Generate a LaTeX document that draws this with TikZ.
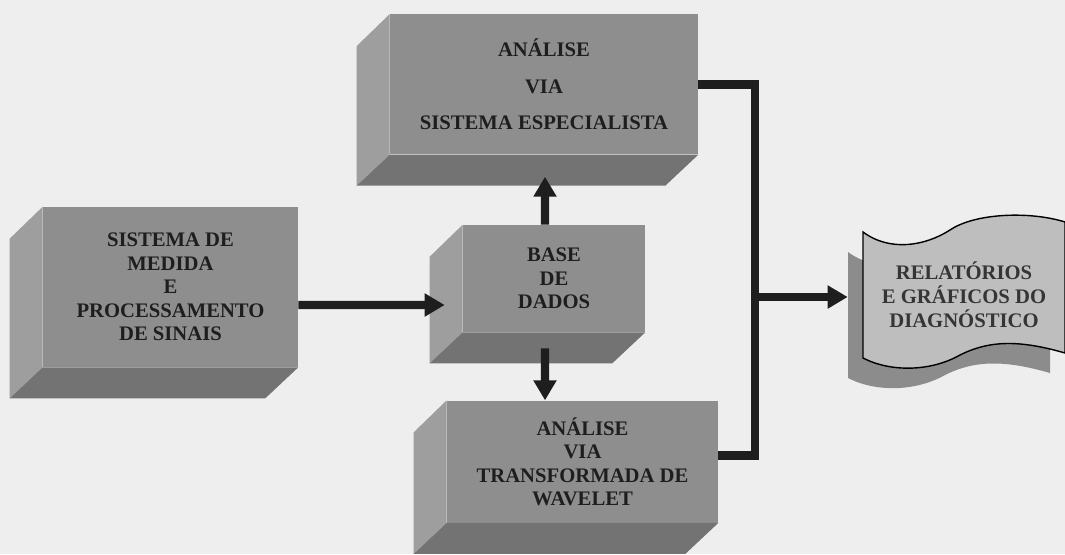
\documentclass[tikz,border=0pt]{standalone}
\usepackage{fontspec}
\setmainfont{Liberation Serif}
\usetikzlibrary{
        arrows.meta,
        positioning
    }
\definecolor{fundo}{HTML}{EEEEEE}
\definecolor{frente}{HTML}{8E8E8E}
\definecolor{lateral}{HTML}{9E9E9E}
\definecolor{inferior}{HTML}{737373}
\definecolor{folha}{HTML}{BEBEBE}
\definecolor{sombra}{HTML}{8C8C8C}
\definecolor{tinta}{HTML}{1E1E1E}
\tikzset{>={Triangle[length=5mm,width=5.5mm]}}
\tikzset{bloco/.style={fill=frente,inner sep=0pt,align=center,text=tinta,
        font=\bfseries\fontsize{14.7}{16.7}\selectfont},
    face lado/.style={fill=lateral},
    face baixo/.style={fill=inferior},
    seta/.style={->,line width=6pt,draw=tinta},
    barra/.style={line width=6pt,draw=tinta},
    texto doc/.style={inner sep=0pt,align=center,text=tinta!90,minimum width=5.05cm,
        font=\bfseries\fontsize{14.7}{17}\selectfont}}

\begin{document}
\begin{tikzpicture}[x=0.025cm,y=-0.025cm]
                \useasboundingbox (0,0) rectangle (1065,554);
                \fill[fundo] (0,0) rectangle (1065,554);
                % blocos
                \node[bloco,minimum width=6.375cm,minimum height=4cm] (med) at (170.5,287)
                    {SISTEMA DE\\MEDIDA\\E\\PROCESSAMENTO\\DE SINAIS};
                \node[bloco,minimum width=4.55cm,minimum height=2.675cm] (base) at (554,278.5)
                    {BASE\\DE\\DADOS};
                \node[bloco,minimum width=7.7cm,minimum height=3.5cm,
                    font=\bfseries\fontsize{14.7}{25.9}\selectfont] (esp) [above=1.75cm of base,xshift=-0.25cm]
                    {ANÁLISE\\VIA\\SISTEMA ESPECIALISTA};
                \node[bloco,minimum width=6.775cm,minimum height=3.05cm] (wav) [below=1.7cm of base,xshift=0.7125cm]
                    {ANÁLISE\\VIA\\TRANSFORMADA DE\\WAVELET};
                % faces laterais
                \foreach \n in {med,esp,base,wav}{
                    \fill[face lado] (\n.north west) -- ++(-33,32) -- ([shift={(-33,31)}]\n.south west)
                        -- (\n.south west) -- cycle;
                    \fill[face baixo] (\n.south west) -- (\n.south east) -- ++(-33,31)
                        -- ([shift={(-33,31)}]\n.south west) -- cycle;
                }
                % relatorio
                \fill[sombra,shift={(-15,20)}] (863,232) .. controls (890,252) and (925,246) .. (950,230)
                    .. controls (975,213) and (1030,211) .. (1065,222) -- (1065,353)
                    .. controls (1020,340) and (990,340) .. (960,355)
                    .. controls (930,372) and (890,372) .. (863,358) -- cycle;
                \filldraw[fill=folha,draw=black,line width=1pt] (863,232) .. controls (890,252) and (925,246) .. (950,230)
                    .. controls (975,213) and (1030,211) .. (1065,222) -- (1065,353)
                    .. controls (1020,340) and (990,340) .. (960,355)
                    .. controls (930,372) and (890,372) .. (863,358) -- cycle;
                \node[texto doc] (rel) at (964,295) {RELATÓRIOS\\E GRÁFICOS DO\\DIAGNÓSTICO};
                % ligacoes
                \coordinate (bus) at (755,297);
                \draw[seta] ([shift={(0,18)}]med.east) -- ([shift={(-18,26.5)}]base.west);
                \draw[seta] ([shift={(-9,0)}]base.north) -- ([shift={(1,22)}]esp.south);
                \draw[seta] ([shift={(-9,16)}]base.south) -- ([shift={(-37.5,0)}]wav.north);
                \draw[barra] (esp.east) -| (bus);
                \draw[barra] ([shift={(0,-6)}]wav.east) -| (bus);
                \draw[seta] (bus) -- ([shift={(-15,2)}]rel.west);
            \end{tikzpicture}
\end{document}
